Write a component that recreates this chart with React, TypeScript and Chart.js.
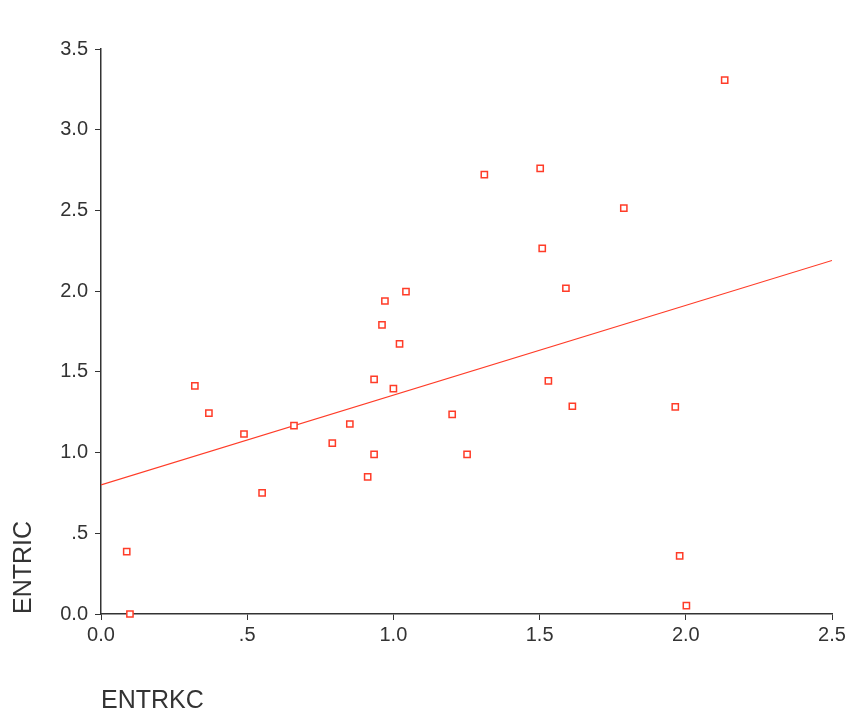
import React, { useEffect, useRef } from "react";
import { Chart, registerables } from "chart.js";

Chart.register(...registerables);

const entrkc = [
  0.088, 0.099, 0.321, 0.369, 0.489, 0.551, 0.66, 0.791, 0.851, 0.912,
  0.934, 0.934, 0.961, 0.971, 1.0, 1.021, 1.043, 1.201, 1.252, 1.311,
  1.502, 1.509, 1.53, 1.59, 1.612, 1.788, 1.964, 1.979, 2.002, 2.133,
];
const entric = [
  0.386, 0.0, 1.413, 1.245, 1.115, 0.75, 1.167, 1.058, 1.177, 0.849,
  1.454, 0.989, 1.791, 1.939, 1.396, 1.673, 1.997, 1.237, 0.989, 2.722,
  2.761, 2.265, 1.444, 2.018, 1.287, 2.514, 1.283, 0.36, 0.052, 3.307,
];
const fitX = [0, 2.5];
const fitY = [0.8, 2.19];
const xTickLabels = ["0.0", ".5", "1.0", "1.5", "2.0", "2.5"];
const yTickLabels = ["0.0", ".5", "1.0", "1.5", "2.0", "2.5", "3.0", "3.5"];

const RED = "#ff3c28";
const AXIS = "#333333";
const FONT = "'Liberation Sans', Arial, sans-serif";

export default function App() {
  const ref = useRef<HTMLCanvasElement | null>(null);
  useEffect(() => {
    document.body.style.margin = "0";
    const ctx = ref.current!.getContext("2d")!;
    const chart = new Chart(ctx, {
      type: "scatter",
      data: {
        datasets: [
          {
            data: entrkc.map((x, i) => ({ x, y: entric[i] })),
            pointStyle: "rect",
            pointRadius: 4.4,
            pointBorderWidth: 1.5,
            borderColor: RED,
            backgroundColor: "#ffffff",
            clip: false,
          } as any,
          {
            type: "line",
            data: fitX.map((x, i) => ({ x, y: fitY[i] })),
            borderColor: RED,
            borderWidth: 1.2,
            pointRadius: 0,
            showLine: true,
            fill: false,
          } as any,
        ],
      },
      options: {
        responsive: false,
        animation: false,
        layout: { padding: { left: 0, top: 49, right: 28, bottom: 0 } },
        plugins: { legend: { display: false }, tooltip: { enabled: false } },
        scales: {
          x: {
            type: "linear",
            min: 0,
            max: 2.5,
            afterFit: (s: any) => {
              s.height = 112;
            },
            ticks: {
              stepSize: 0.5,
              color: AXIS,
              padding: 3,
              maxRotation: 0,
              font: { family: FONT, size: 20 },
              callback: (_v: any, i: number) => xTickLabels[i],
            },
            grid: { drawOnChartArea: false, drawTicks: true, tickLength: 6, color: AXIS, lineWidth: 1 },
            border: { display: true, color: AXIS, width: 1.5 },
            title: {
              display: true,
              text: "ENTRKC",
              align: "start",
              color: AXIS,
              font: { family: FONT, size: 25 },
              padding: { top: 0, bottom: 10 },
            },
          },
          y: {
            type: "linear",
            min: 0,
            max: 3.5,
            afterFit: (s: any) => {
              s.width = 101;
            },
            ticks: {
              stepSize: 0.5,
              color: AXIS,
              padding: 7,
              font: { family: FONT, size: 20 },
              callback: (_v: any, i: number) => yTickLabels[i],
            },
            grid: { drawOnChartArea: false, drawTicks: true, tickLength: 6, color: AXIS, lineWidth: 1 },
            border: { display: true, color: AXIS, width: 1.5 },
            title: {
              display: true,
              text: "ENTRIC",
              align: "start",
              color: AXIS,
              font: { family: FONT, size: 25 },
              padding: { top: 9, bottom: 0 },
            },
          },
        },
      } as any,
    });
    return () => chart.destroy();
  }, []);
  return (
    <div style={{ width: 860, height: 726, background: "#fff" }}>
      <canvas ref={ref} width={860} height={726} style={{ display: "block" }} />
    </div>
  );
}
